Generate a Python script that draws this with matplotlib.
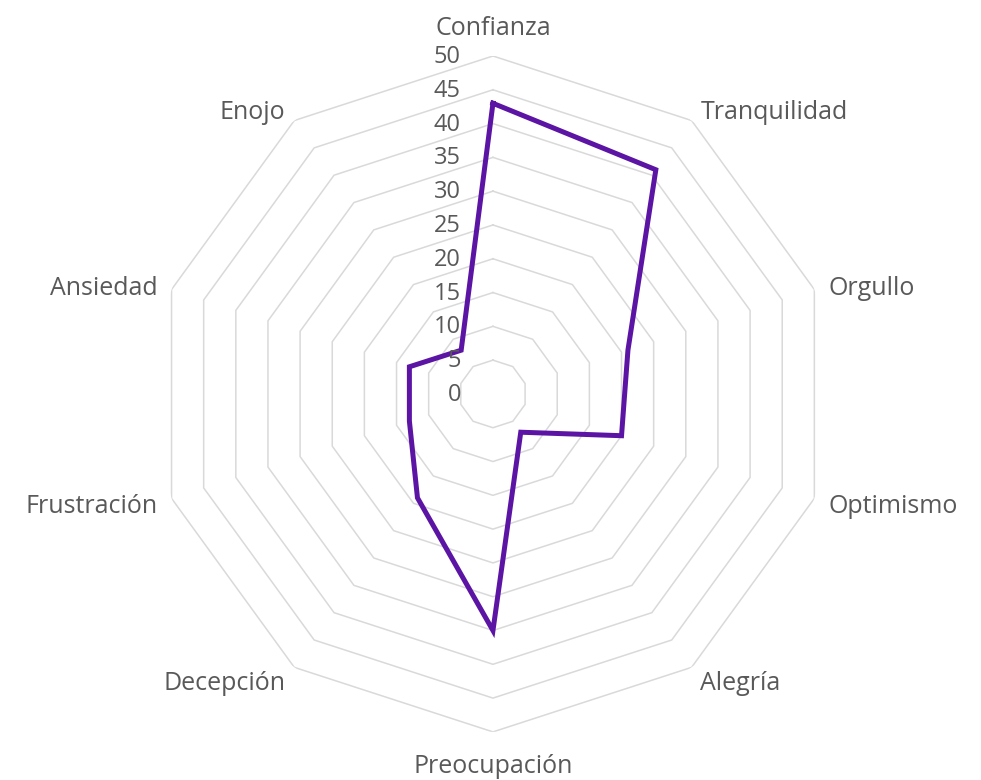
import numpy as np
import matplotlib
matplotlib.use("Agg")
import matplotlib.pyplot as plt
from matplotlib.transforms import offset_copy

# --------- data ---------
categories = ["Confianza", "Tranquilidad", "Orgullo", "Optimismo", "Alegría",
              "Preocupación", "Decepción", "Frustración", "Ansiedad", "Enojo"]
values = [43, 41, 21, 20, 7, 35, 19, 13, 13, 8]
ring_values = [5, 10, 15, 20, 25, 30, 35, 40, 45, 50]
tick_labels = ["0", "5", "10", "15", "20", "25", "30", "35", "40", "45", "50"]

LINE_COLOR = "#5b14a3"
GRID_COLOR = "#d9d9d9"
TEXT_COLOR = "#595959"

plt.rcParams["font.family"] = ["Open Sans", "DejaVu Sans"]

fig = plt.figure(figsize=(9.81, 7.80), dpi=100)
ax = fig.add_axes([0.158, 0.0616, 0.689, 0.8667], projection="polar")
ax.set_theta_zero_location("N")
ax.set_theta_direction(-1)
ax.set_ylim(0, 50)
ax.grid(False)
ax.spines["polar"].set_visible(False)
ax.set_xticks([])
ax.set_yticks([])

n = len(categories)
angles = np.linspace(0, 2 * np.pi, n, endpoint=False)
closed = np.append(angles, angles[0])

# decagon rings
for rv in ring_values:
    ax.plot(closed, [rv] * (n + 1), color=GRID_COLOR, lw=1.1, zorder=1)

# series
ax.plot(closed, values + values[:1], color=LINE_COLOR, lw=3.6,
        solid_joinstyle="miter", zorder=3)

# radial tick labels along the top spoke
tick_tr = offset_copy(ax.transData, fig=fig, x=-32, y=-1, units="dots")
for i, lab in enumerate(tick_labels):
    ax.text(0, i * 5, lab, transform=tick_tr, ha="right", va="center",
            fontsize=17, color=TEXT_COLOR)

# category labels
side_tr = offset_copy(ax.transData, fig=fig, x=0, y=-4, units="dots")
for ang, lab in zip(angles, categories):
    s, c = np.sin(ang), np.cos(ang)
    if abs(s) < 1e-6:
        ax.text(ang, 53.3 if c < 0 else 52.2, lab, ha="center",
                va="bottom" if c > 0 else "top", fontsize=18, color=TEXT_COLOR)
    else:
        ax.text(ang, 52.2, lab, transform=side_tr,
                ha="left" if s > 0 else "right", va="center",
                fontsize=18, color=TEXT_COLOR)

fig.savefig("out.png", dpi=100)
